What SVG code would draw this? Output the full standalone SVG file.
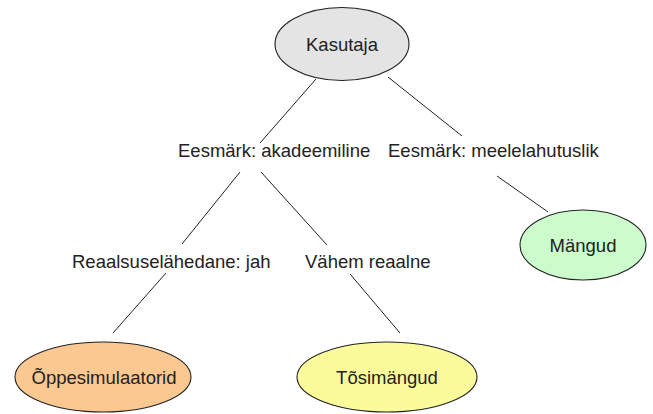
<svg xmlns="http://www.w3.org/2000/svg" width="653" height="414" viewBox="0 0 653 414">
<style>
.n{stroke:#222;stroke-width:1.1}
.t{font-family:"Liberation Sans",Arial,sans-serif;font-size:18.5px;fill:#222;text-anchor:middle}
.l{font-family:"Liberation Sans",Arial,sans-serif;font-size:18.5px;fill:#222}
.c line{stroke:#222;stroke-width:1}
</style>
<rect width="653" height="414" fill="#fff"/>
<g class="c" id="connectors">
<line x1="316" y1="79" x2="260" y2="143"/>
<line x1="388" y1="77" x2="462" y2="136"/>
<line x1="497" y1="176" x2="548" y2="212"/>
<line x1="240" y1="172" x2="182" y2="244"/>
<line x1="261" y1="172" x2="327" y2="245"/>
<line x1="166" y1="273" x2="113" y2="333"/>
<line x1="350" y1="274" x2="400" y2="333"/>
</g>
<g id="labels">
<text class="l" x="178" y="157">Eesmärk: akadeemiline</text>
<text class="l" x="388" y="157">Eesmärk: meelelahutuslik</text>
<text class="l" x="72" y="268">Reaalsuselähedane: jah</text>
<text class="l" x="305" y="268">Vähem reaalne</text>
</g>
<g id="kasutaja">
<ellipse class="n" cx="342" cy="44" rx="67" ry="36.5" fill="#e4e4e4"/>
<text class="t" x="342" y="50.5">Kasutaja</text>
</g>
<g id="mangud">
<ellipse class="n" cx="583" cy="245" rx="63" ry="35" fill="#ccfccc"/>
<text class="t" x="583" y="251.5">Mängud</text>
</g>
<g id="oppesimulaatorid">
<ellipse class="n" cx="103" cy="377" rx="88" ry="35" fill="#fbc891"/>
<text class="t" x="104" y="383.5">Õppesimulaatorid</text>
</g>
<g id="tosimangud">
<ellipse class="n" cx="387" cy="377" rx="90" ry="35" fill="#fbfb9b"/>
<text class="t" x="387" y="383.5">Tõsimängud</text>
</g>
</svg>
